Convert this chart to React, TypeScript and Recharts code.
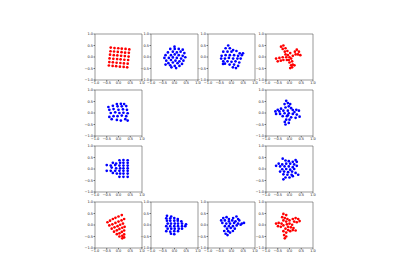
import React from 'react';
import { ReferenceArea, Scatter, ScatterChart, XAxis, YAxis } from 'recharts';

type Pair = [number, number];

const tickValues = [-1, -0.5, 0, 0.5, 1];

// top row
const gridTopLeft: Pair[] = [
  [-0.33, 0.41], [-0.17, 0.39], [-0.01, 0.38], [0.14, 0.36], [0.3, 0.35], [0.46, 0.33],
  [-0.34, 0.25], [-0.19, 0.24], [-0.03, 0.22], [0.13, 0.21], [0.28, 0.19], [0.44, 0.18],
  [-0.36, 0.1], [-0.2, 0.08], [-0.05, 0.07], [0.11, 0.05], [0.27, 0.04], [0.43, 0.02],
  [-0.38, -0.06], [-0.22, -0.08], [-0.06, -0.09], [0.09, -0.1], [0.25, -0.12], [0.41, -0.13],
  [-0.39, -0.22], [-0.24, -0.23], [-0.08, -0.25], [0.08, -0.26], [0.23, -0.28], [0.39, -0.29],
  [-0.41, -0.37], [-0.25, -0.39], [-0.1, -0.4], [0.06, -0.42], [0.22, -0.43], [0.37, -0.45],
];
const cloudTop1: Pair[] = [
  [0, 0.45], [-0.18, 0.35], [0.01, 0.35], [0.18, 0.35], [0.35, 0.32], [-0.28, 0.2],
  [-0.07, 0.23], [0.1, 0.2], [0.26, 0.23], [0.42, 0.17], [-0.38, 0.08], [-0.15, 0.08],
  [0.01, 0.11], [0.18, 0.08], [0.35, 0.05], [-0.43, -0.04], [-0.24, -0.04], [-0.07, -0.02],
  [0.1, -0.04], [0.28, -0.07], [0.46, -0.01], [-0.35, -0.16], [-0.15, -0.13], [0.04, -0.16],
  [0.21, -0.19], [0.38, -0.16], [-0.26, -0.27], [-0.07, -0.24], [0.13, -0.27], [0.32, -0.3],
  [-0.38, -0.33], [-0.18, -0.36], [0.01, -0.39], [0.21, -0.39], [0.07, -0.48], [-0.13, -0.45],
];
const cloudTop2: Pair[] = [
  [-0.14, 0.5], [-0.25, 0.38], [-0.07, 0.38], [0.07, 0.3], [-0.35, 0.23], [-0.17, 0.23],
  [0, 0.23], [0.21, 0.26], [0.35, 0.16], [0.49, 0.16], [-0.42, 0.05], [-0.25, 0.08],
  [-0.07, 0.08], [0.11, 0.08], [0.28, 0.05], [0.44, 0.08], [-0.44, -0.07], [-0.28, -0.07],
  [-0.11, -0.04], [0.07, -0.07], [0.25, -0.07], [0.39, -0.07], [-0.35, -0.19], [-0.17, -0.19],
  [0, -0.21], [0.17, -0.19], [0.33, -0.24], [-0.28, -0.29], [-0.08, -0.33], [0.11, -0.33],
  [0.28, -0.39], [0.06, -0.45], [0.19, -0.48], [-0.36, -0.3],
];
const crossTopRight: Pair[] = [
  [-0.36, 0.45], [-0.26, 0.5], [-0.29, 0.35], [-0.17, 0.38], [-0.2, 0.23], [-0.09, 0.26],
  [0.31, 0.32], [0.4, 0.23], [0.23, 0.23], [0.26, 0.11], [0.36, 0.11], [0.46, 0.08],
  [-0.57, -0.07], [-0.5, -0.19], [-0.43, -0.04], [-0.37, -0.16], [-0.29, -0.01], [-0.26, -0.13],
  [0, -0.24], [0.07, -0.36], [0.03, -0.48], [0.14, -0.33], [0.11, -0.45], [0.21, -0.36],
  [-0.07, 0.08], [0, -0.01], [-0.14, -0.01], [0.07, -0.07], [-0.03, -0.13], [0.14, 0.05],
  [-0.17, 0.11], [-0.11, -0.13], [0.11, -0.19], [0.03, 0.17],
];
// middle rows
const gridLeft1: Pair[] = [
  [-0.07, 0.39], [0.1, 0.4], [0.24, 0.39],
  [-0.43, 0.26], [-0.24, 0.31], [-0.04, 0.29], [0.14, 0.29], [0.33, 0.3],
  [-0.39, 0.14], [-0.21, 0.17], [0, 0.14], [0.19, 0.16], [0.36, 0.14],
  [-0.33, 0], [-0.14, 0.03], [0.04, 0], [0.21, 0.01], [0.39, -0.01],
  [-0.39, -0.17], [-0.21, -0.14], [-0.04, -0.14], [0.14, -0.11], [0.33, -0.14],
  [-0.29, -0.27], [-0.07, -0.3], [0.1, -0.33], [0.29, -0.27], [0.39, -0.33],
];
const cloudRight1: Pair[] = [
  [-0.14, 0.53], [-0.07, 0.43], [-0.21, 0.39], [0.03, 0.39], [-0.03, 0.29], [-0.17, 0.24],
  [0.07, 0.21], [-0.36, 0.19], [-0.5, 0.14], [-0.6, 0.07], [-0.43, 0.07], [-0.26, 0.1],
  [-0.07, 0.1], [0.14, 0.13], [0.29, 0.14], [0.4, 0.1], [-0.57, -0.04], [-0.4, -0.04],
  [-0.21, -0.01], [-0.03, -0.01], [0.14, -0.04], [0.31, -0.07], [0.43, -0.16], [-0.29, -0.14],
  [-0.11, -0.14], [0.07, -0.19], [0.26, -0.21], [-0.14, -0.29], [0, -0.29], [-0.2, -0.39],
  [-0.03, -0.43], [-0.17, -0.5], [-0.07, -0.1], [0.21, 0.04],
];
const gridLeft2: Pair[] = [
  [0.04, 0.38], [0.21, 0.39], [0.39, 0.38],
  [-0.24, 0.27], [-0.1, 0.24], [0.07, 0.27], [0.21, 0.27], [0.39, 0.27],
  [-0.5, 0.17], [-0.33, 0.15], [-0.14, 0.17], [0.04, 0.15], [0.21, 0.15], [0.39, 0.15],
  [-0.29, 0.06], [-0.1, 0.03], [0.07, 0.03], [0.21, 0.03], [0.39, 0.03],
  [-0.5, -0.08], [-0.33, -0.08], [-0.14, -0.08], [0.04, -0.08], [0.21, -0.08], [0.39, -0.08],
  [-0.24, -0.17], [-0.07, -0.2], [0.07, -0.2], [0.21, -0.2], [0.39, -0.2],
  [0.04, -0.34], [0.21, -0.34], [0.39, -0.34],
];
const cloudRight2: Pair[] = [
  [-0.29, 0.45], [-0.17, 0.37], [-0.03, 0.34], [0.14, 0.31], [0.26, 0.39], [0.31, 0.31],
  [-0.46, 0.23], [-0.31, 0.2], [-0.14, 0.23], [0.03, 0.23], [0.2, 0.2], [-0.57, 0.14],
  [-0.4, 0.11], [-0.21, 0.11], [-0.03, 0.11], [0.14, 0.08], [0.31, 0.14], [-0.31, -0.01],
  [-0.14, 0], [0.03, -0.03], [0.2, 0], [-0.4, -0.11], [-0.23, -0.11], [-0.06, -0.14],
  [0.11, -0.11], [0.26, -0.17], [0.37, -0.25], [-0.26, -0.23], [-0.09, -0.25], [0.09, -0.25],
  [-0.17, -0.37], [0, -0.37], [-0.26, -0.45], [0.14, -0.31],
];
// bottom row
const gridBottomLeft: Pair[] = [
  [-0.47, 0.12], [-0.36, 0.19], [-0.24, 0.26], [-0.13, 0.31], [0, 0.37], [0.14, 0.43],
  [-0.39, -0.02], [-0.26, 0.03], [-0.13, 0.09], [0, 0.15], [0.13, 0.2], [0.24, 0.26],
  [-0.29, -0.16], [-0.17, -0.1], [-0.04, -0.05], [0.07, 0.01], [0.19, 0.06],
  [-0.19, -0.29], [-0.07, -0.23], [0.04, -0.17], [0.16, -0.12], [0.26, -0.08],
  [-0.07, -0.4], [0.04, -0.36], [0.14, -0.3], [0.24, -0.24],
  [0.04, -0.5], [0.16, -0.47], [0.24, -0.41],
  [0.16, -0.58], [0.24, -0.54],
];
const gridBottom1: Pair[] = [
  [-0.32, 0.4], [-0.14, 0.37],
  [-0.35, 0.29], [-0.18, 0.29], [-0.01, 0.3], [0.14, 0.26],
  [-0.32, 0.19], [-0.18, 0.19], [-0.01, 0.19], [0.14, 0.19], [0.29, 0.16],
  [-0.29, 0.06], [-0.15, 0.06], [0.01, 0.06], [0.15, 0.06], [0.32, 0.06], [0.49, 0.03],
  [-0.35, -0.05], [-0.18, -0.05], [-0.01, -0.05], [0.15, -0.05], [0.32, -0.05], [0.46, -0.05],
  [-0.29, -0.16], [-0.14, -0.16], [0.01, -0.16], [0.18, -0.16], [0.32, -0.16],
  [-0.35, -0.27], [-0.18, -0.29], [-0.01, -0.27], [0.15, -0.27],
  [-0.15, -0.38], [-0.01, -0.4],
];
const cloudBottom2: Pair[] = [
  [-0.35, 0.3], [-0.21, 0.34], [-0.11, 0.26], [0.07, 0.3], [0.21, 0.37], [0.28, 0.26],
  [-0.44, 0.2], [-0.28, 0.2], [-0.11, 0.16], [0.03, 0.2], [0.17, 0.16], [0.33, 0.2],
  [-0.39, 0.09], [-0.22, 0.06], [-0.06, 0.06], [0.11, 0.09], [0.28, 0.06], [0.44, 0.06],
  [0.53, 0.09], [-0.28, -0.05], [-0.11, -0.05], [0.06, -0.05], [0.22, -0.02], [0.39, 0.01],
  [-0.19, -0.16], [-0.03, -0.13], [0.14, -0.16], [-0.31, -0.26], [-0.14, -0.27], [0.06, -0.26],
  [-0.25, -0.38], [-0.06, -0.33], [-0.17, -0.44],
];
const crossBottomRight: Pair[] = [
  [-0.26, 0.48], [-0.14, 0.43], [-0.31, 0.34], [-0.2, 0.3], [-0.09, 0.26], [-0.26, 0.2],
  [-0.14, 0.15], [0, 0.2], [0.14, 0.26], [0.26, 0.3], [0.37, 0.26], [0.2, 0.15],
  [0.31, 0.12], [0.43, 0.17], [-0.57, 0.06], [-0.46, 0.09], [-0.34, 0.06], [-0.49, -0.05],
  [-0.37, -0.08], [-0.26, -0.02], [-0.11, 0.03], [0, 0.06], [0.11, 0.01], [-0.06, -0.08],
  [0.06, -0.1], [0.17, -0.13], [0.26, -0.24], [0.14, -0.22], [-0.17, -0.16], [-0.06, -0.22],
  [0.03, -0.27], [-0.26, -0.27], [-0.14, -0.33], [-0.23, -0.44], [-0.14, -0.5], [-0.2, -0.58],
];

const RED = '#ff0000';
const BLUE = '#0000ff';

const colLeft = [95, 151, 208, 266];
const rowTop = [34, 90, 146, 202];

const panels = [
  { data: gridTopLeft, color: RED, row: 0, col: 0 },
  { data: cloudTop1, color: BLUE, row: 0, col: 1 },
  { data: cloudTop2, color: BLUE, row: 0, col: 2 },
  { data: crossTopRight, color: RED, row: 0, col: 3 },
  { data: gridLeft1, color: BLUE, row: 1, col: 0 },
  { data: cloudRight1, color: BLUE, row: 1, col: 3 },
  { data: gridLeft2, color: BLUE, row: 2, col: 0 },
  { data: cloudRight2, color: BLUE, row: 2, col: 3 },
  { data: gridBottomLeft, color: RED, row: 3, col: 0 },
  { data: gridBottom1, color: BLUE, row: 3, col: 1 },
  { data: cloudBottom2, color: BLUE, row: 3, col: 2 },
  { data: crossBottomRight, color: RED, row: 3, col: 3 },
];

const fmt = (v: number) => v.toFixed(1).replace('-', '\u2212');
const tickStyle = { fontSize: 3.5, fontFamily: 'DejaVu Sans', fill: '#222' };

function Panel({ data, color, left, top }: { data: Pair[]; color: string; left: number; top: number }) {
  const points = data.map(([x, y]) => ({ x, y }));
  const dot = (p: any) => <circle cx={p.cx} cy={p.cy} r={1.35} fill={color} />;
  return (
    <div style={{ position: 'absolute', left: left - 20, top: top - 3 }}>
      <ScatterChart width={74} height={60} margin={{ top: 3, right: 7, bottom: 0, left: 0 }}>
        <XAxis
          type='number'
          dataKey='x'
          domain={[-1, 1]}
          ticks={tickValues}
          tickFormatter={fmt}
          height={11}
          tickSize={1.5}
          tickMargin={0.5}
          axisLine={false}
          tickLine={{ stroke: '#000', strokeWidth: 0.5 }}
          tick={tickStyle}
          interval={0}
        />
        <YAxis
          type='number'
          dataKey='y'
          domain={[-1, 1]}
          ticks={tickValues}
          tickFormatter={fmt}
          width={20}
          tickSize={1.5}
          tickMargin={0.5}
          axisLine={false}
          tickLine={{ stroke: '#000', strokeWidth: 0.5 }}
          tick={tickStyle}
          interval={0}
        />
        <ReferenceArea x1={-1} x2={1} y1={-1} y2={1} fill='none' stroke='#555' strokeWidth={0.6} />
        <Scatter data={points} fill={color} shape={dot} isAnimationActive={false} />
      </ScatterChart>
    </div>
  );
}

export default function App() {
  return (
    <div style={{ position: 'absolute', left: 0, top: 0, width: 400, height: 280, background: '#fff' }}>
      {panels.map((p, i) => (
        <Panel key={i} data={p.data} color={p.color} left={colLeft[p.col]} top={rowTop[p.row]} />
      ))}
    </div>
  );
}
